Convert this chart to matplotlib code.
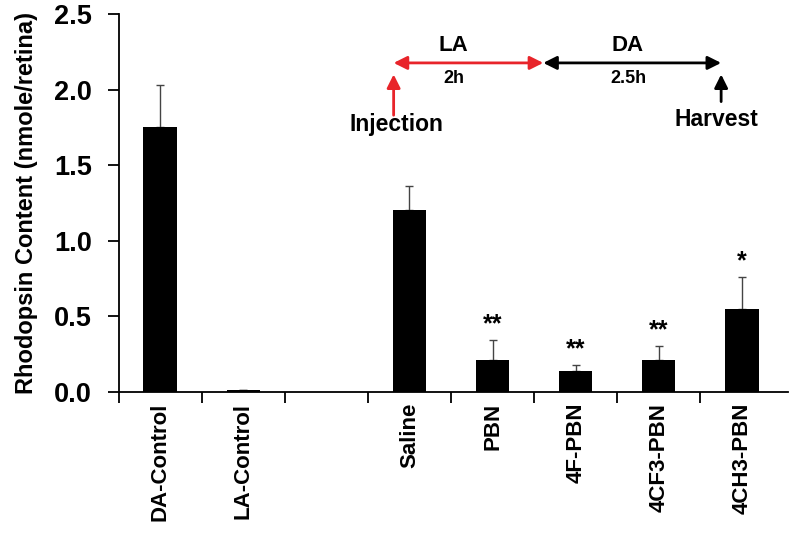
import numpy as np
import matplotlib
matplotlib.use('Agg')
import matplotlib.pyplot as plt

plt.rcParams['font.family'] = ['Liberation Sans', 'DejaVu Sans']
plt.rcParams['font.weight'] = 'bold'

# data (blank slot between controls and treatments)
labels = ['DA-Control', 'LA-Control', '', 'Saline', 'PBN', '4F-PBN', '4CF3-PBN', '4CH3-PBN']
values = [1.75, 0.01, np.nan, 1.20, 0.21, 0.135, 0.21, 0.55]
errors = [0.28, 0.003, np.nan, 0.16, 0.13, 0.04, 0.09, 0.21]
stars = ['', '', '', '', '**', '**', '**', '*']

fig = plt.figure(figsize=(7.9, 5.36), dpi=100)
ax = fig.add_axes([0.150, 0.269, 0.847, 0.705])

x = np.arange(len(labels))
ax.bar(x, values, width=0.4, color='black', zorder=2)
ax.errorbar(x, values, yerr=[np.zeros(len(x)), errors], fmt='none',
            ecolor='#444444', elinewidth=1, capsize=3, capthick=1, zorder=1)

for xi, v, e, s in zip(x, values, errors, stars):
    if s:
        ax.text(xi, v + e + 0.025, s, ha='center', va='bottom', fontsize=18)

ax.set_xlim(-0.5, 7.55)
ax.set_ylim(0, 2.5)
ax.set_yticks(np.arange(0, 2.51, 0.5))
ax.set_yticklabels([f'{t:.1f}' for t in np.arange(0, 2.51, 0.5)], fontsize=19.5, fontweight='bold')
ax.set_xticks(x)
ax.set_xticklabels(labels, rotation=90, fontsize=16, fontweight='bold')
ax.set_xticks(np.arange(-0.5, 7.5, 1), minor=True)
ax.tick_params(axis='x', which='major', length=0, pad=8)
ax.tick_params(axis='x', which='minor', length=8, width=1.3, direction='out')
ax.tick_params(axis='y', length=8, width=1.3, direction='out', pad=11)
ax.set_ylabel('Rhodopsin Content (nmole/retina)', fontsize=17, fontweight='bold', labelpad=12)

for side in ['top', 'right']:
    ax.spines[side].set_visible(False)
for side in ['left', 'bottom']:
    ax.spines[side].set_linewidth(1.3)

# timeline inset
red = '#e8242a'
akw = dict(lw=2, mutation_scale=20, shrinkA=0, shrinkB=0)
ax.annotate('', xy=(2.81, 2.176), xytext=(4.61, 2.176),
            arrowprops=dict(arrowstyle='<|-|>', color=red, **akw))
ax.annotate('', xy=(4.61, 2.176), xytext=(6.75, 2.176),
            arrowprops=dict(arrowstyle='<|-|>', color='black', **akw))
ax.annotate('', xy=(2.81, 2.10), xytext=(2.81, 1.83),
            arrowprops=dict(arrowstyle='-|>', color=red, **akw))
ax.annotate('', xy=(6.75, 2.10), xytext=(6.75, 1.92),
            arrowprops=dict(arrowstyle='-|>', color='black', **akw))
ax.text(3.53, 2.29, 'LA', ha='center', va='center', fontsize=16)
ax.text(5.63, 2.29, 'DA', ha='center', va='center', fontsize=16)
ax.text(3.53, 2.07, '2h', ha='center', va='center', fontsize=13)
ax.text(5.63, 2.07, '2.5h', ha='center', va='center', fontsize=13)
ax.text(2.84, 1.77, 'Injection', ha='center', va='center', fontsize=16.5)
ax.text(6.69, 1.80, 'Harvest', ha='center', va='center', fontsize=16.5)

fig.savefig('out.png', dpi=100)
